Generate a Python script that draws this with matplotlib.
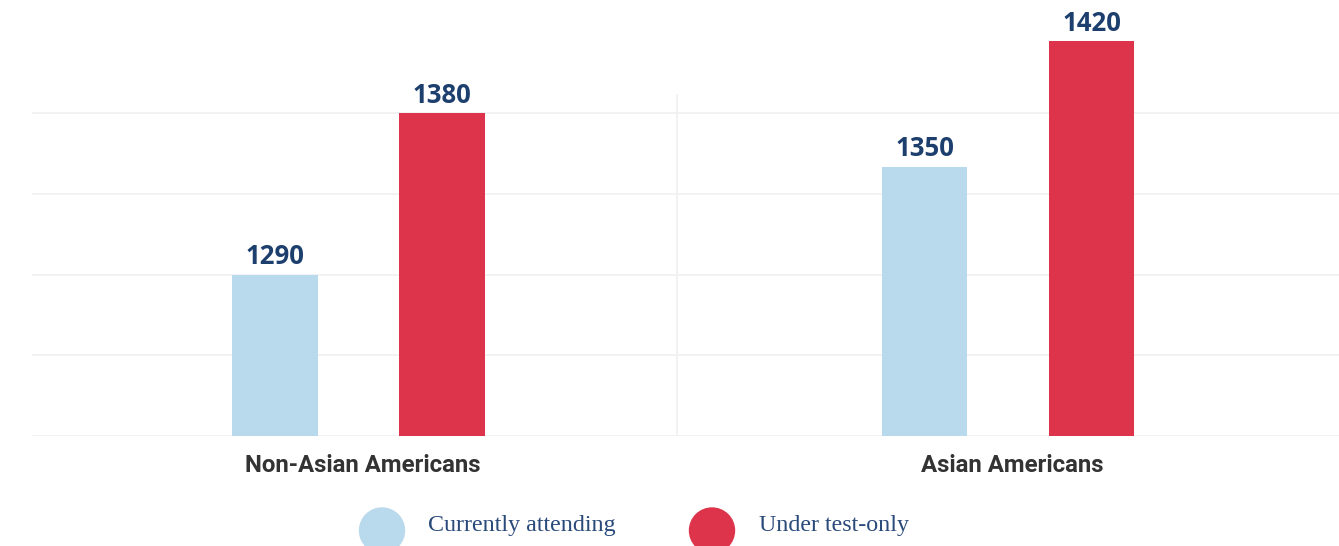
import matplotlib.pyplot as plt
from matplotlib.patches import Circle

# ------------------------- Data -------------------------
categories = ["Non-Asian Americans", "Asian Americans"]
series_names = ["Currently attending", "Under test-only"]
currently_attending = [1290, 1350]
under_test_only = [1380, 1420]
grid_values = [1200, 1245, 1290, 1335, 1380]

# ------------------------- Style -------------------------
colors = ["#b9d9ec", "#de344b"]
label_color = "#1d3f6e"
W, H = 1339, 546

fig = plt.figure(figsize=(W / 100, H / 100), dpi=100)
# axes from x=32px to right edge, baseline at y=436px
ax = fig.add_axes([32 / W, (H - 436) / H, 1 - 32 / W, 436 / H])
ax.set_xlim(-0.5027, 1.5096)
ax.set_ylim(1200, 1443)

offset = 0.1286
width = 0.132
x = list(range(len(categories)))

for vals, sign, col in [(currently_attending, -1, colors[0]), (under_test_only, 1, colors[1])]:
    xs = [i + sign * offset for i in x]
    ax.bar(xs, [v - 1200 for v in vals], bottom=1200, width=width, color=col, zorder=3)
    for xi, v in zip(xs, vals):
        ax.text(xi, v + 2.5, str(v), ha="center", va="bottom", fontsize=18.5,
                fontweight="bold", family="Open Sans", color=label_color, zorder=4)

for g in grid_values:
    ax.axhline(g, color="#f0f0f0", lw=1.2, zorder=1)
ax.plot([0.49, 0.49], [1200, 1390], color="#f0f0f0", lw=1.2, zorder=1)

ax.set_xticks([])
ax.set_yticks([])
for s in ax.spines.values():
    s.set_visible(False)

for i, cat in enumerate(categories):
    ax.text(i + 0.007, 1200 - 10, cat, ha="center", va="top", fontsize=17.3,
            fontweight="bold", family="Roboto", color="#333333")

# ------------------------- Legend -------------------------
lax = fig.add_axes([0, 0, 1, 1])
lax.set_xlim(0, W)
lax.set_ylim(H, 0)
lax.axis("off")
legend_pos = [(382, 428), (712, 759)]
for (cx, tx), name, col in zip(legend_pos, series_names, colors):
    lax.add_patch(Circle((cx, 530.5), 22.5, color=col))
    lax.text(tx, 526, name, ha="left", va="center", fontsize=17.3,
             family="Liberation Serif", color="#2a4a7a")

fig.savefig("out.png", dpi=100)
